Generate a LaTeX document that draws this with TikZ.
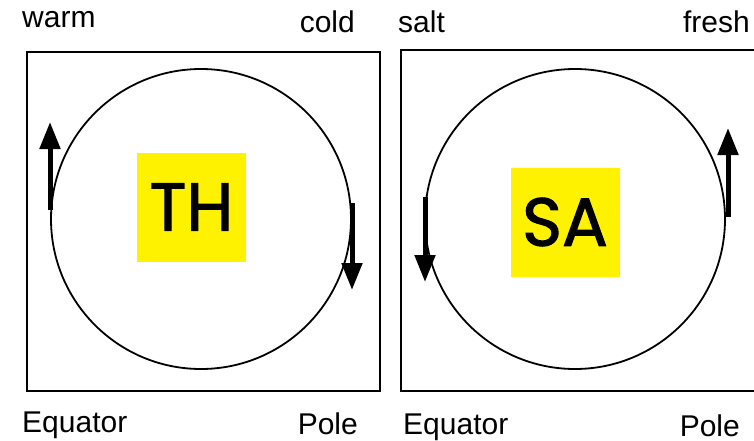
\documentclass[tikz,border=0pt]{standalone}
\usepackage{fontspec}
\setmainfont{Liberation Sans}
\newfontfamily\tagfont[FakeBold=1.6]{Poppins}
\usetikzlibrary{arrows.meta}
\begin{document}
\begin{tikzpicture}[x=1pt,y=-1pt,
  flow/.style={line width=5pt,-{Triangle[length=27pt,width=20pt]}},
  tag/.style={fill=yellow,minimum width=109pt,minimum height=109pt,inner sep=0pt,
    font=\tagfont\fontsize{68}{68}\selectfont},
  lbl/.style={inner sep=0pt,font=\fontsize{30}{30}\selectfont},
  frame/.style={line width=1.8pt}]
  \useasboundingbox (0,0) rectangle (754,441);
  \clip (0,0) rectangle (754,441);
  % temperature panel
  \draw[frame] (27,52) rectangle (380,391);
  \draw[frame] (201,219) circle (150pt);
  \node[tag] (th) at (191.5,207) {TH};
  \node[lbl,anchor=base west] (warm) at (22,28) {warm};
  \node[lbl,anchor=base east] (cold) at (355,33) {cold};
  \node[lbl,anchor=base west] (eqa) at (22,432) {Equator};
  \node[lbl,anchor=base east] (polea) at (358,434) {Pole};
  \coordinate (thup0) at (50,210);
  \coordinate (thup1) at (50,122);
  \coordinate (thdn0) at (352,203);
  \coordinate (thdn1) at (352,290);
  \draw[flow] (thup0) -- (thup1);
  \draw[flow] (thdn0) -- (thdn1);
  % salinity panel
  \draw[frame] (401,50) rectangle (756,391);
  \draw[frame] (575,219) circle (150pt);
  \node[tag] (sa) at (565,222) {SA};
  \node[lbl,anchor=base west] (salt) at (398,33) {salt};
  \node[lbl,anchor=base east] (fresh) at (750,33) {fresh};
  \node[lbl,anchor=base west] (eqb) at (403,434) {Equator};
  \node[lbl,anchor=base east] (poleb) at (740,436) {Pole};
  \coordinate (sadn0) at (425,197);
  \coordinate (sadn1) at (425,282);
  \coordinate (saup0) at (728,217);
  \coordinate (saup1) at (728,128);
  \draw[flow] (sadn0) -- (sadn1);
  \draw[flow] (saup0) -- (saup1);
\end{tikzpicture}
\end{document}
